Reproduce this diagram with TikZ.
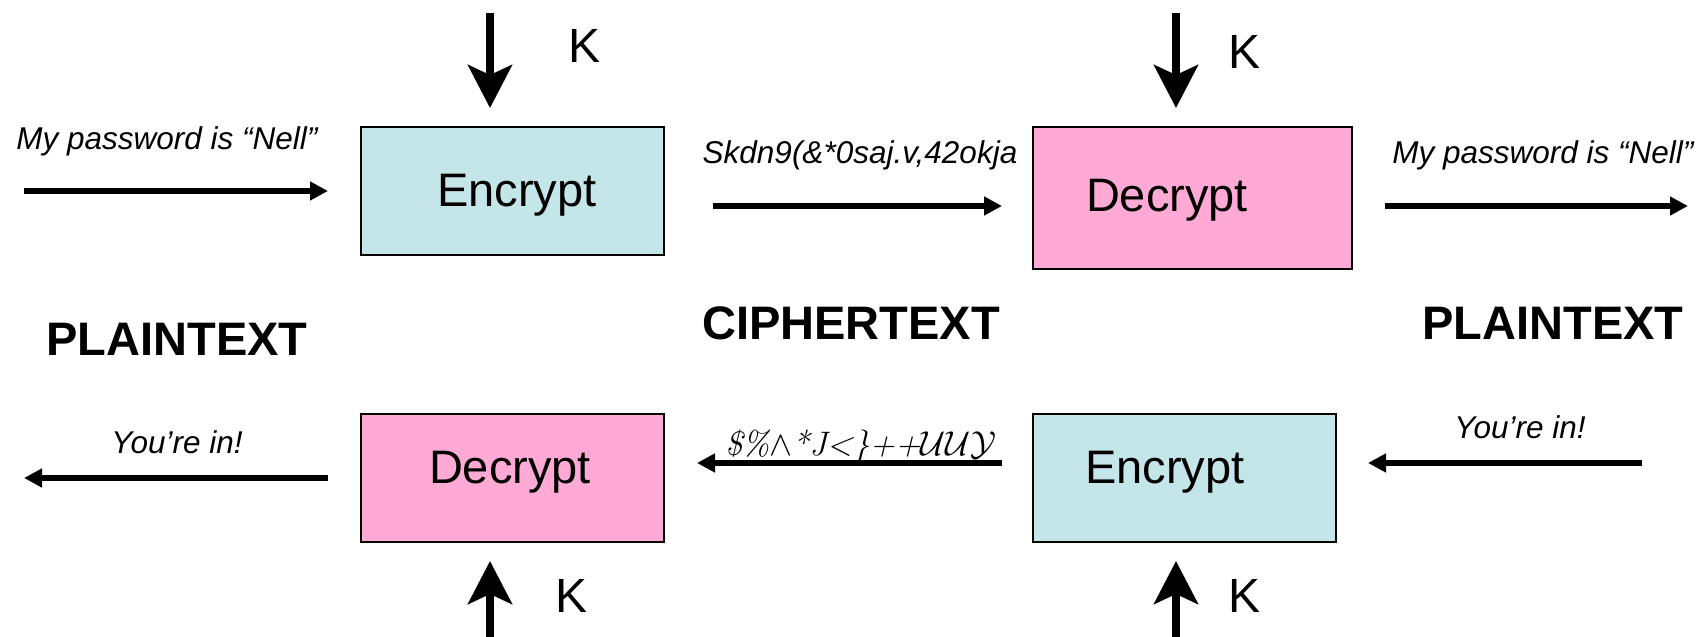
\documentclass[tikz,border=0pt]{standalone}
\usepackage{fontspec}
\setsansfont{Liberation Sans}
\usetikzlibrary{arrows.meta}
\definecolor{enccol}{RGB}{196,230,232}
\definecolor{deccol}{RGB}{255,170,213}
\tikzset{
	every node/.style={font=\sffamily},
	cryptbox/.style={draw, line width=1pt, inner sep=0pt},
	encbox/.style={cryptbox, fill=enccol},
	decbox/.style={cryptbox, fill=deccol},
	boxtext/.style={font=\sffamily\fontsize{23.5}{27}\selectfont},
	keytext/.style={font=\sffamily\fontsize{24}{28}\selectfont},
	msgtext/.style={font=\sffamily\itshape\fontsize{15.75}{19}\selectfont},
	bigtitle/.style={font=\sffamily\bfseries\fontsize{23.5}{28}\selectfont},
	flow/.style={line width=3pt, -{Triangle[length=9pt,width=9pt]}},
	keyarrow/.style={line width=3.75pt, -{Stealth[length=21.5pt,width=22pt,inset=5pt]}}
}

\begin{document}
\begin{tikzpicture}[x=0.5pt,y=-0.5pt]
\useasboundingbox (0,0) rectangle (1699,637);

% the four boxes
\node[encbox, minimum width=151.5pt, minimum height=64pt] (encA) at (512.5,191) {};
\node[decbox, minimum width=159.5pt, minimum height=71pt] (decA) at (1192.5,198) {};
\node[decbox, minimum width=151.5pt, minimum height=64pt] (decB) at (512.5,478) {};
\node[encbox, minimum width=151.5pt, minimum height=64pt] (encB) at (1184.5,478) {};

\node[boxtext] (encAtext) at (517,195) {Encrypt};
\node[boxtext] (decAtext) at (1167,200) {Decrypt};
\node[boxtext] (decBtext) at (510,472) {Decrypt};
\node[boxtext] (encBtext) at (1165,472) {Encrypt};

% keys
\coordinate (kA0) at (490,13);   \coordinate (kA1) at (490,108);
\coordinate (kB0) at (1176,13);  \coordinate (kB1) at (1176,108);
\coordinate (kC0) at (490,637);  \coordinate (kC1) at (490,561);
\coordinate (kD0) at (1176,637); \coordinate (kD1) at (1176,561);
\draw[keyarrow] (kA0) -- (kA1);
\draw[keyarrow] (kB0) -- (kB1);
\draw[keyarrow] (kC0) -- (kC1);
\draw[keyarrow] (kD0) -- (kD1);
\node[keytext] (keyA) at (585,46) {K};
\node[keytext] (keyB) at (1244,52) {K};
\node[keytext] (keyC) at (572,596) {K};
\node[keytext] (keyD) at (1244,596) {K};

% messages going right
\coordinate (mA0) at (24,191);   \coordinate (mA1) at (328,191);
\coordinate (mB0) at (713,206);  \coordinate (mB1) at (1002,206);
\coordinate (mC0) at (1385,206); \coordinate (mC1) at (1688,206);
\draw[flow] (mA0) -- (mA1);
\draw[flow] (mB0) -- (mB1);
\draw[flow] (mC0) -- (mC1);
\node[msgtext] (plainA) at (167,141) {My password is “Nell”};
\node[msgtext] (cipherA) at (860,155) {Skdn9(\&*0saj.v,42okja};
\node[msgtext] (plainB) at (1543,155) {My password is “Nell”};

% messages going back
\coordinate (rA0) at (328,478);  \coordinate (rA1) at (24,478);
\coordinate (rB0) at (1002,463); \coordinate (rB1) at (697,463);
\coordinate (rC0) at (1642,463); \coordinate (rC1) at (1368,463);
\draw[flow] (rA0) -- (rA1);
\draw[flow] (rB0) -- (rB1);
\draw[flow] (rC0) -- (rC1);
\node[msgtext] (replyA) at (177,442) {You’re in!};
\node[font=\rmfamily\itshape\fontsize{17}{20}\selectfont, anchor=base] (cipherB) at (861,455)
	{\$\%$\wedge$*J<\}++$\mathcal{UUY}$};
\node[msgtext] (replyB) at (1520,427) {You’re in!};

% titles
\node[bigtitle] (titleA) at (177,339) {PLAINTEXT};
\node[bigtitle] (titleB) at (851,323) {CIPHERTEXT};
\node[bigtitle] (titleC) at (1553,323) {PLAINTEXT};
\end{tikzpicture}
\end{document}
